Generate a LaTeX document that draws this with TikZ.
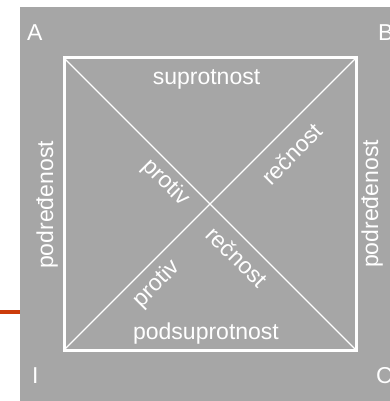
\documentclass[tikz,border=0pt]{standalone}
\usepackage{fontspec}
\setmainfont{Liberation Sans}
\definecolor{panel}{RGB}{166,166,166}
\definecolor{accent}{RGB}{204,60,10}
\begin{document}
\begin{tikzpicture}[x=1pt,y=-1pt,
  lbl/.style={text=white,inner sep=0pt,font=\fontsize{23}{27}\selectfont},
  corner/.style={lbl,anchor=base west},
  frame/.style={draw=white,line width=3pt},
  diag/.style={draw=white,line width=1.4pt}]
\useasboundingbox (0,0) rectangle (390,401);
% backdrop
\fill[white] (0,0) rectangle (390,401);
\fill[panel] (20,7) rectangle (390,401);
\draw[accent,line width=4pt] (0,311.5) -- (20,311.5);
% square of opposition
\coordinate (tl) at (64,58);
\coordinate (tr) at (356,58);
\coordinate (br) at (356,350);
\coordinate (bl) at (64,350);
\draw[diag] (tl) -- (br);
\draw[diag] (bl) -- (tr);
\draw[frame] (tl) rectangle (br);
% corner letters
\node[corner] (a) at (27,41) {A};
\node[corner] (b) at (378,41) {B};
\node[corner] (i) at (32,383) {I};
\node[corner] (c) at (376,383) {C};
% side labels
\node[lbl,anchor=base] (top) at (206.5,85) {suprotnost};
\node[lbl,anchor=base] (bottom) at (206,339) {podsuprotnost};
\node[lbl,anchor=base,rotate=90] (left) at (53,205) {podređenost};
\node[lbl,anchor=base,rotate=90] (right) at (378,204) {podređenost};
% diagonal labels
\node[lbl,rotate=-45] (p1) at (166,183) {protiv};
\node[lbl,rotate=45] (r1) at (292,154) {rečnost};
\node[lbl,rotate=-45] (r2) at (237,257) {rečnost};
\node[lbl,rotate=45] (p2) at (157,284) {protiv};
\end{tikzpicture}
\end{document}
